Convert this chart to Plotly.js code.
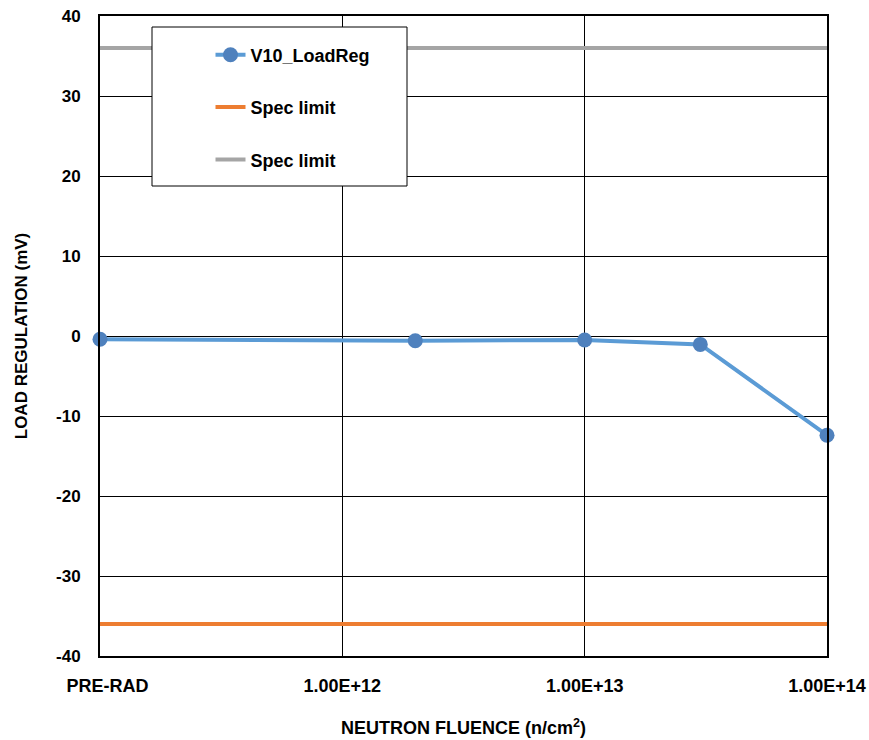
<!DOCTYPE html>
<html>
<head>
<meta charset="utf-8">
<script src="https://cdn.plot.ly/plotly-3.0.1.min.js"></script>
<style>html,body{margin:0;padding:0;background:#fff;}#chart{width:869px;height:740px;}</style>
</head>
<body>
<div id="chart"></div>
<script>
const fluence = [1e11, 2e12, 1e13, 3e13, 1e14];
const loadReg = [-0.4, -0.6, -0.5, -1.05, -12.4];
const specX = [1e11, 1e14];
const specLow = [-36, -36];
const specHigh = [36, 36];
const xTickVals = [1e11, 1e12, 1e13, 1e14];
const xTickText = ["\u00A0\u00A0\u00A0PRE-RAD", "1.00E+12", "1.00E+13", "1.00E+14"];
const yTickVals = [-40, -30, -20, -10, 0, 10, 20, 30, 40];
const yTickText = ["-40", "-30", "-20", "-10", "0", "10", "20", "30", "40"];
const seriesNames = ["V10_LoadReg", "Spec limit", "Spec limit"];

const FONT = "Liberation Sans, Arial, sans-serif";
const traces = [
  {x: fluence, y: loadReg, name: seriesNames[0], mode: "lines+markers",
   line: {color: "#5B9BD5", width: 4}, marker: {color: "#4F81BD", size: 15}, legendgroup: "a", cliponaxis: false},
  {x: specX, y: specLow, name: seriesNames[1], mode: "lines",
   line: {color: "#ED7D31", width: 4}, legendgroup: "b"},
  {x: specX, y: specHigh, name: seriesNames[2], mode: "lines",
   line: {color: "#A5A5A5", width: 4}, legendgroup: "c"}
];
const layout = {
  width: 869, height: 740,
  margin: {l: 100, r: 42, t: 16, b: 84},
  paper_bgcolor: "#fff", plot_bgcolor: "#fff",
  font: {family: FONT, color: "#000", size: 17, weight: "bold"},
  showlegend: true,
  legend: {x: 0.152, y: 0.968, xanchor: "left", yanchor: "top",
    bgcolor: "rgba(0,0,0,0)", borderwidth: 0, tracegroupgap: 26,
    font: {family: FONT, size: 18, color: "#000", weight: "bold"}},
  xaxis: {type: "log", range: [11, 14], tickvals: xTickVals, ticktext: xTickText,
    showgrid: true, gridcolor: "#000", gridwidth: 1, zeroline: false,
    showline: true, mirror: true, linecolor: "#000", linewidth: 2,
    ticks: "", ticklabelstandoff: 12,
    tickfont: {family: FONT, size: 18, weight: "bold"},
    title: {text: "NEUTRON FLUENCE (n/cm<sup>2</sup>)", standoff: 27,
      font: {family: FONT, size: 18, weight: "bold"}}},
  yaxis: {range: [-40, 40], tickvals: yTickVals, ticktext: yTickText,
    showgrid: true, gridcolor: "#000", gridwidth: 1, zeroline: false,
    showline: true, mirror: true, linecolor: "#000", linewidth: 2,
    ticks: "", ticklabelstandoff: 14,
    tickfont: {family: FONT, size: 17, weight: "bold"},
    title: {text: "LOAD REGULATION (mV)", standoff: 24,
      font: {family: FONT, size: 17, weight: "bold"}}},
  shapes: [{type: "rect", xref: "paper", yref: "paper", layer: "above",
    x0: (152 - 100) / 727, x1: (407 - 100) / 727,
    y0: (656 - 186) / 640, y1: (656 - 27) / 640,
    fillcolor: "#fff", line: {color: "#000", width: 1}}]
};
Plotly.newPlot("chart", traces, layout, {displayModeBar: false});
</script>
</body>
</html>
